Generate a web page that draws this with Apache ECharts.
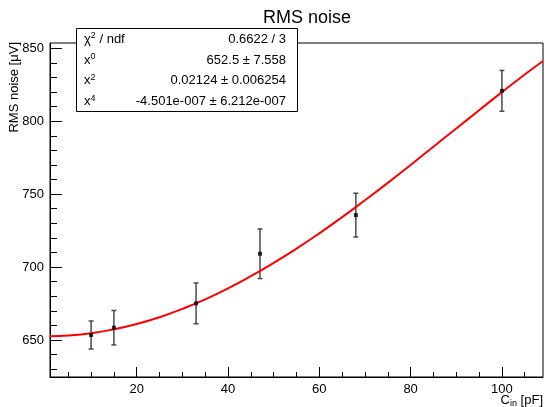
<!DOCTYPE html>
<html>
<head>
<meta charset="utf-8">
<script src="https://cdn.jsdelivr.net/npm/echarts@6/dist/echarts.min.js"></script>
<style>
html, body { margin: 0; padding: 0; background: #fff; }
#chart { width: 545px; height: 407px; }
</style>
</head>
<body>
<div id="chart"></div>
<script>
// measured points
const capIn = [10, 15, 33, 47, 68, 100];
const noise = [653.4, 658.4, 675.1, 709.1, 735.6, 820.8];
const noiseErr = [9.6, 11.8, 14.0, 17.0, 15.0, 14.0];

// fitted curve
const fitX = [1, 5, 10, 15, 20, 25, 30, 35, 40, 45, 50, 55, 60, 65, 70, 75, 80, 85, 90, 95, 100, 105, 109];
const fitY = [652.5, 653.0, 654.6, 657.3, 660.9, 665.6, 671.3, 677.8, 685.3, 693.7, 702.8, 712.6, 723.1,
              734.2, 745.8, 757.7, 770.0, 782.5, 795.0, 807.5, 819.9, 832.0, 841.3];

const xTicks = [20, 40, 60, 80, 100];
const yTicks = [650, 700, 750, 800, 850];

const statNames = ['χ{sup|2} / ndf', 'x{sup|0}', 'x{sup|2}', 'x{sup|4}'];
const statValues = ['0.6622 / 3', '652.5 ± 7.558', '0.02124 ± 0.006254', '-4.501e-007 ± 6.212e-007'];

const xMinor = [];
for (let v = 5; v < 109; v += 5) if (xTicks.indexOf(v) < 0) xMinor.push(v);
const yMinor = [];
for (let v = 630; v < 854; v += 10) if (yTicks.indexOf(v) < 0) yMinor.push(v);

const font = 'Liberation Sans, Arial, sans-serif';
const chart = echarts.init(document.getElementById('chart'));

// stats box rows
const statChildren = [{
    type: 'rect',
    shape: { x: 76.5, y: 28.5, width: 221, height: 83 },
    style: { fill: '#fff', stroke: '#000', lineWidth: 1 }
}];
statNames.forEach((n, i) => {
    const y = 39.5 + i * 20.7;
    statChildren.push({
        type: 'text', x: 84, y: y,
        style: {
            text: n, fontSize: 13, fontFamily: font, fill: '#000', textAlign: 'left', textVerticalAlign: 'middle',
            rich: { sup: { fontSize: 9, fontFamily: font, padding: [0, 0, 7, 0] } }
        }
    });
    statChildren.push({
        type: 'text', x: 286, y: y,
        style: { text: statValues[i], fontSize: 13, fontFamily: font, fill: '#000', textAlign: 'right', textVerticalAlign: 'middle' }
    });
});

const option = {
    animation: false,
    title: {
        text: 'RMS noise',
        left: 302,
        top: 4,
        textAlign: 'center',
        textStyle: { fontSize: 18, fontWeight: 'normal', fontFamily: font, color: '#000' }
    },
    grid: {
        left: 50, top: 43, width: 493, height: 334,
        show: true, borderColor: '#000', borderWidth: 1, backgroundColor: 'transparent'
    },
    xAxis: [{
        type: 'value', min: 1, max: 109, position: 'bottom',
        axisLine: { show: true, lineStyle: { color: '#000', width: 1 } },
        axisTick: { show: true, inside: true, length: 10, customValues: xTicks, lineStyle: { color: '#000' } },
        axisLabel: { customValues: xTicks, fontSize: 13, fontFamily: font, color: '#000', margin: 6 },
        splitLine: { show: false }
    }, {
        type: 'value', min: 1, max: 109, position: 'bottom',
        axisLine: { show: false },
        axisTick: { show: true, inside: true, length: 5, customValues: xMinor, lineStyle: { color: '#000' } },
        axisLabel: { show: false },
        splitLine: { show: false }
    }],
    yAxis: [{
        type: 'value', min: 624.6, max: 853.6, position: 'left',
        axisLine: { show: true, lineStyle: { color: '#000', width: 1 } },
        axisTick: { show: true, inside: true, length: 12, customValues: yTicks, lineStyle: { color: '#000' } },
        axisLabel: { customValues: yTicks, fontSize: 13, fontFamily: font, color: '#000', margin: 6 },
        splitLine: { show: false }
    }, {
        type: 'value', min: 624.6, max: 853.6, position: 'left',
        axisLine: { show: false },
        axisTick: { show: true, inside: true, length: 7, customValues: yMinor, lineStyle: { color: '#000' } },
        axisLabel: { show: false },
        splitLine: { show: false }
    }],
    series: [{
        type: 'custom',
        xAxisIndex: 0, yAxisIndex: 0,
        data: capIn.map((x, i) => [x, noise[i] - noiseErr[i], noise[i] + noiseErr[i]]),
        encode: { x: 0, y: [1, 2] },
        renderItem: function (params, api) {
            const lo = api.coord([api.value(0), api.value(1)]);
            const hi = api.coord([api.value(0), api.value(2)]);
            const w = 2.5;
            const st = { stroke: '#4a4a4a', lineWidth: 1.5 };
            return {
                type: 'group',
                children: [
                    { type: 'line', shape: { x1: lo[0], y1: lo[1], x2: hi[0], y2: hi[1] }, style: st },
                    { type: 'line', shape: { x1: lo[0] - w, y1: lo[1], x2: lo[0] + w, y2: lo[1] }, style: st },
                    { type: 'line', shape: { x1: hi[0] - w, y1: hi[1], x2: hi[0] + w, y2: hi[1] }, style: st }
                ]
            };
        },
        z: 2
    }, {
        type: 'line',
        xAxisIndex: 0, yAxisIndex: 0,
        data: fitX.map((x, i) => [x, fitY[i]]),
        smooth: true,
        showSymbol: false,
        lineStyle: { color: '#ff0000', width: 2 },
        z: 3
    }, {
        type: 'scatter',
        xAxisIndex: 0, yAxisIndex: 0,
        data: capIn.map((x, i) => [x, noise[i]]),
        symbol: 'rect',
        symbolSize: 4,
        itemStyle: { color: '#000' },
        z: 4
    }],
    graphic: [{
        type: 'text', x: 14, y: 42, rotation: Math.PI / 2,
        style: { text: 'RMS noise [μV]', fontSize: 13, fontFamily: font, fill: '#000', textAlign: 'right', textVerticalAlign: 'middle' }
    }, {
        type: 'text', x: 543, y: 400,
        style: {
            text: 'C{sub|in} [pF]', fontSize: 13, fontFamily: font, fill: '#000',
            textAlign: 'right', textVerticalAlign: 'middle',
            rich: { sub: { fontSize: 9, fontFamily: font, padding: [7, 0, 0, 0] } }
        }
    }, {
        type: 'group', z: 100,
        children: statChildren
    }]
};
chart.setOption(option);
</script>
</body>
</html>
